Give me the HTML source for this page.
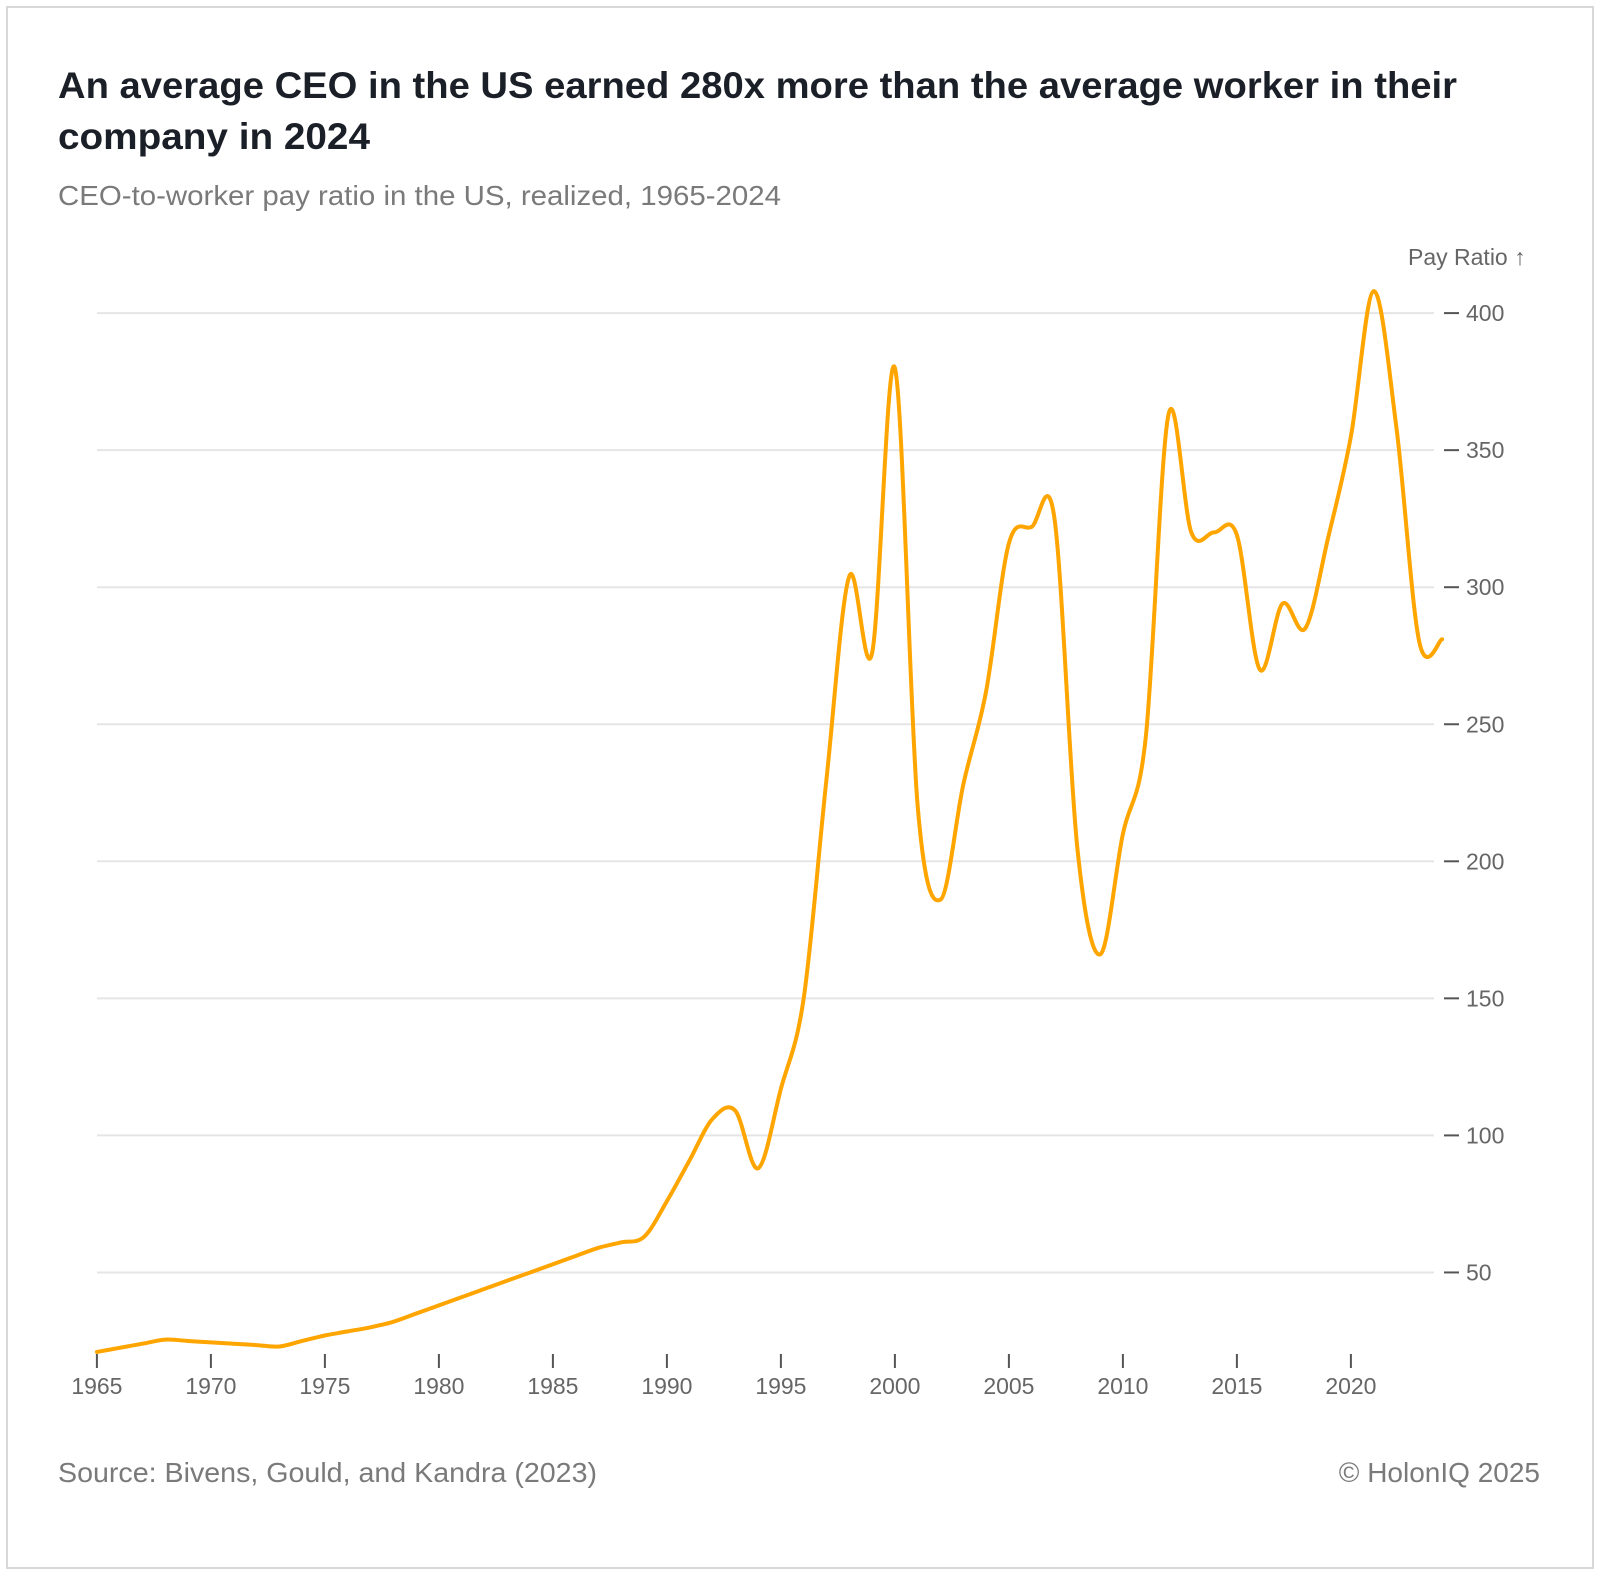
<!DOCTYPE html>
<html><head><meta charset="utf-8"><style>
html,body{margin:0;padding:0;background:#fff;}
svg{display:block;font-family:"Liberation Sans",sans-serif;}
</style></head><body>
<svg id="chart" width="1600" height="1576" viewBox="0 0 1600 1576">
<rect x="7" y="7" width="1586" height="1561" fill="#fff" stroke="#d8d8d8" stroke-width="2"/>
<text x="58" y="98" font-size="37" font-weight="bold" fill="#1b1f27" textLength="1399" lengthAdjust="spacingAndGlyphs">An average CEO in the US earned 280x more than the average worker in their</text>
<text x="58" y="149" font-size="37" font-weight="bold" fill="#1b1f27" textLength="312" lengthAdjust="spacingAndGlyphs">company in 2024</text>
<text x="58" y="205" font-size="28" fill="#7a7a7a" textLength="723" lengthAdjust="spacingAndGlyphs">CEO-to-worker pay ratio in the US, realized, 1965-2024</text>
<text x="1408" y="265" font-size="23" fill="#666">Pay Ratio ↑</text>
<g id="grid"></g><g id="xaxis"></g><g id="series"></g>
<text x="58" y="1482" font-size="28" fill="#7a7a7a" textLength="539" lengthAdjust="spacingAndGlyphs">Source: Bivens, Gould, and Kandra (2023)</text>
<text x="1540" y="1482" font-size="28" fill="#7a7a7a" text-anchor="end">© HolonIQ 2025</text>
</svg>
<script>
const years=[1965,1966,1967,1968,1969,1970,1971,1972,1973,1974,1975,1976,1977,1978,1979,1980,1981,1982,1983,1984,1985,1986,1987,1988,1989,1990,1991,1992,1993,1994,1995,1996,1997,1998,1999,2000,2001,2002,2003,2004,2005,2006,2007,2008,2009,2010,2011,2012,2013,2014,2015,2016,2017,2018,2019,2020,2021,2022,2023,2024];
const ratios=[21,22.5,24,25.5,25,24.5,24,23.5,23,25,27,28.5,30,32,35,38,41,44,47,50,53,56,59,61,63,76,91,106,109,88,117,150,230,304,276,380,220,186,228,262,316,322,325,205,166,210,245,363,320,320,319,270,294,285,318,355,408,358,280,281];
const yTicks=[50,100,150,200,250,300,350,400];
const xTicks=[1965,1970,1975,1980,1985,1990,1995,2000,2005,2010,2015,2020];
const NS="http://www.w3.org/2000/svg";
const X=y=>96.9+(y-1965)*22.8;
const Y=v=>1409.5-v*2.741;
function mk(tag,attrs,parent,txt){const e=document.createElementNS(NS,tag);for(const k in attrs)e.setAttribute(k,attrs[k]);if(txt!==undefined)e.textContent=txt;parent.appendChild(e);return e;}
const grid=document.getElementById('grid');
yTicks.forEach(t=>{
 const l=mk('line',{x1:97,x2:1434,y1:Y(t),y2:Y(t),stroke:'#e5e5e5','stroke-width':2},grid);
 
 
 const tk=mk('line',{x1:1444,x2:1459,y1:Y(t),y2:Y(t),stroke:'#555','stroke-width':2},grid);
 
 
 const tx=mk('text',{x:1466,y:Y(t)+8,'font-size':23,fill:'#666'},grid,String(t));
 
 
});
const xa=document.getElementById('xaxis');
xTicks.forEach(t=>{
 const tk=mk('line',{x1:X(t),x2:X(t),y1:1354,y2:1368,stroke:'#555','stroke-width':2},xa);
 
 
 const tx=mk('text',{x:X(t),y:1394,'font-size':23,fill:'#666','text-anchor':'middle'},xa,String(t));
 
 
});
const pts=years.map((y,i)=>[X(y),Y(ratios[i])]);
let d='M'+pts[0][0]+','+pts[0][1];
for(let i=0;i<pts.length-1;i++){
 const p0=pts[Math.max(0,i-1)],p1=pts[i],p2=pts[i+1],p3=pts[Math.min(pts.length-1,i+2)];
 const c1=[p1[0]+(p2[0]-p0[0])/6,p1[1]+(p2[1]-p0[1])/6];
 const c2=[p2[0]-(p3[0]-p1[0])/6,p2[1]-(p3[1]-p1[1])/6];
 d+=' C'+c1[0]+','+c1[1]+' '+c2[0]+','+c2[1]+' '+p2[0]+','+p2[1];
}
const line=mk('path',{d:d,fill:'none',stroke:'#ffa500','stroke-width':4,'stroke-linejoin':'round','stroke-linecap':'round'},document.getElementById('series'));


</script>
</body></html>
